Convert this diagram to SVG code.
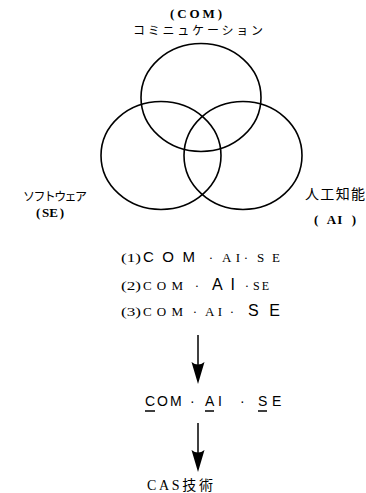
<svg xmlns="http://www.w3.org/2000/svg" width="366" height="493" viewBox="0 0 366 493">
<style>
.c{fill:none;stroke:#000;stroke-width:1.6}
.s{font-family:"Liberation Serif","Noto Sans CJK JP",serif;fill:#000}
.j{font-family:"Noto Sans CJK JP","Liberation Serif",serif;fill:#000}
.b{font-family:"Liberation Sans",Arial,sans-serif;fill:#000}
.lb{font-family:"Liberation Serif",serif;font-size:13px;font-weight:bold;fill:#000}
.ln{stroke:#000;stroke-width:1.5}
</style>
<rect width="366" height="493" fill="#fff"/>
<g id="com">
<ellipse class="c" cx="201" cy="97.5" rx="60" ry="54"/>
<text class="lb" x="170" y="18" textLength="52" lengthAdjust="spacing">(COM)</text>
<text class="j" x="133" y="35" font-size="12" textLength="130" lengthAdjust="spacing">コミニュケーション</text>
</g>
<g id="se">
<ellipse class="c" cx="161" cy="155.5" rx="60" ry="54"/>
<text class="j" x="23" y="201" font-size="12" textLength="64" lengthAdjust="spacing">ソフトウェア</text>
<text class="lb" x="36" y="217">(</text>
<text class="lb" x="50" y="217" text-anchor="middle">SE</text>
<text class="lb" x="64" y="217" text-anchor="end">)</text>
</g>
<g id="ai">
<ellipse class="c" cx="243" cy="155.5" rx="59" ry="54"/>
<text class="j" x="305" y="199" font-size="14" textLength="60" lengthAdjust="spacing">人工知能</text>
<text class="lb" x="314" y="224">(</text>
<text class="lb" x="335" y="224" text-anchor="middle" letter-spacing="1">AI</text>
<text class="lb" x="356" y="224" text-anchor="end">)</text>
</g>
<g id="list">
<text class="s" x="121" y="262" font-size="13" textLength="20" lengthAdjust="spacingAndGlyphs">(1)</text>
<text class="b" x="143" y="262" font-size="15" textLength="52" lengthAdjust="spacing">COM</text>
<text class="s" x="211" y="262" font-size="13" text-anchor="middle">·</text>
<text class="s" x="222" y="262" font-size="13" textLength="18" lengthAdjust="spacing">AI</text>
<text class="s" x="246" y="262" font-size="13" text-anchor="middle">·</text>
<text class="s" x="257" y="262" font-size="13" textLength="23" lengthAdjust="spacing">SE</text>

<text class="s" x="121" y="290" font-size="13" textLength="20" lengthAdjust="spacingAndGlyphs">(2)</text>
<text class="s" x="143" y="290" font-size="13" textLength="40" lengthAdjust="spacing">COM</text>
<text class="s" x="197" y="290" font-size="13" text-anchor="middle">·</text>
<text class="b" x="212" y="290" font-size="16" textLength="23" lengthAdjust="spacing">AI</text>
<text class="s" x="247" y="290" font-size="13" text-anchor="middle">·</text>
<text class="s" x="253" y="290" font-size="12" textLength="16" lengthAdjust="spacing">SE</text>

<text class="s" x="121" y="316" font-size="13" textLength="20" lengthAdjust="spacingAndGlyphs">(3)</text>
<text class="s" x="143" y="316" font-size="13" textLength="40" lengthAdjust="spacing">COM</text>
<text class="s" x="195" y="316" font-size="13" text-anchor="middle">·</text>
<text class="s" x="205" y="316" font-size="13" textLength="17" lengthAdjust="spacing">AI</text>
<text class="s" x="232" y="316" font-size="13" text-anchor="middle">·</text>
<text class="b" x="248" y="316" font-size="16" textLength="32" lengthAdjust="spacing">SE</text>
</g>
<g id="result">
<text class="b" y="406" font-size="14"><tspan x="145">C</tspan><tspan x="157">O</tspan><tspan x="170">M</tspan><tspan x="190">·</tspan><tspan x="205">A</tspan><tspan x="218">I</tspan><tspan x="240">·</tspan><tspan x="258">S</tspan><tspan x="272">E</tspan></text>
<line class="ln" x1="145" y1="411" x2="155" y2="411"/>
<line class="ln" x1="205" y1="411" x2="214" y2="411"/>
<line class="ln" x1="258" y1="411" x2="267" y2="411"/>
</g>
<g id="cas">
<text class="s" x="147" y="490" font-size="14" textLength="66" lengthAdjust="spacing">CAS技術</text>
</g>
<g id="connectors">
<line class="ln" x1="198" y1="335" x2="198" y2="366"/>
<path d="M191.5,362 Q198,367 204.5,362 L198,384 Z" fill="#000"/>
<line class="ln" x1="198" y1="423" x2="198" y2="454"/>
<path d="M191.5,450 Q198,455 204.5,450 L198,472 Z" fill="#000"/>
</g>
</svg>
